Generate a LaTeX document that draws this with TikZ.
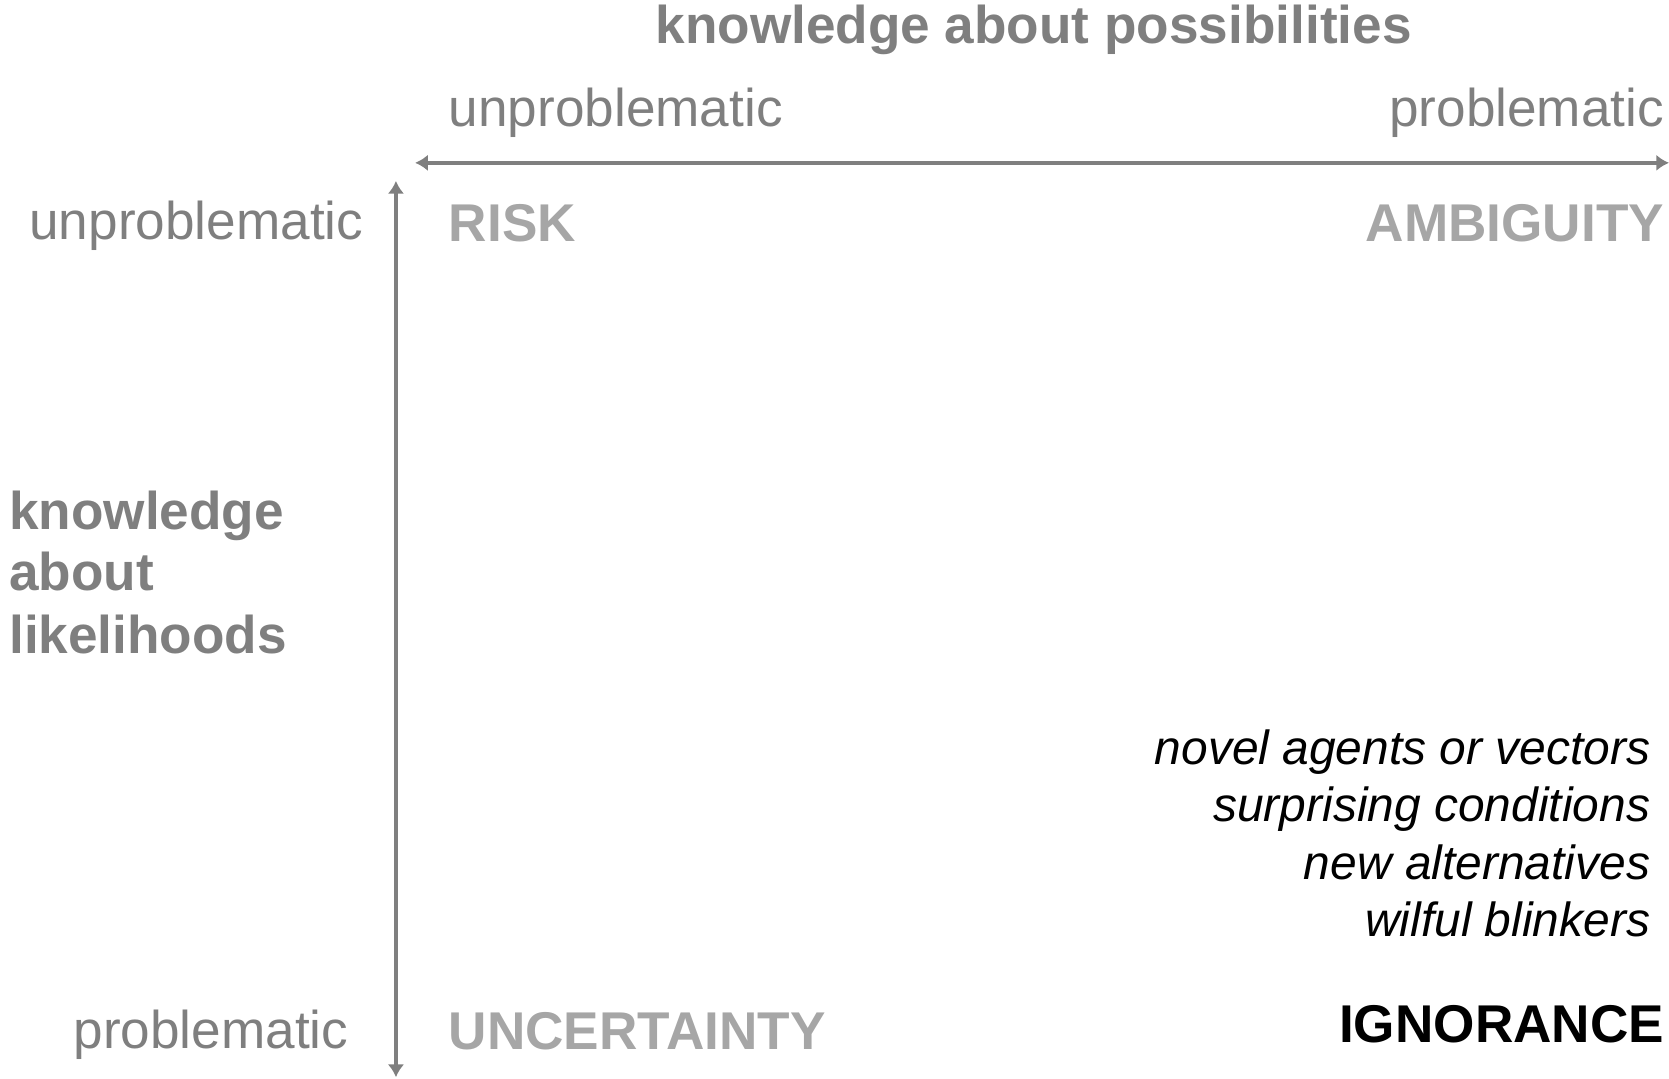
\documentclass[tikz,border=0pt]{standalone}
\usepackage{fontspec}
\setmainfont{Liberation Sans}
\usetikzlibrary{arrows.meta, positioning}
\definecolor{axgrey}{HTML}{7f7f7f}
\definecolor{qgrey}{HTML}{a6a6a6}

\begin{document}
\begin{tikzpicture}[x=0.01cm, y=-0.01cm,
            lbl/.style={inner sep=0pt, text=axgrey, font=\fontsize{14.2}{17}\selectfont},
            head/.style={inner sep=0pt, text=axgrey, font=\fontsize{14.2}{17}\selectfont\bfseries},
            quad/.style={head, text=qgrey},
            hint/.style={inner sep=0pt, text=black, font=\fontsize{12.8}{15}\selectfont\itshape},
            axis/.style={draw=axgrey, line width=1pt, {Latex[length=3.4pt,width=4.4pt]}-{Latex[length=3.4pt,width=4.4pt]}}]
        \useasboundingbox (0,0) rectangle (1568,1013);
        % axis end points
        \coordinate (hl) at (390,153);
        \coordinate (hr) at (1568,153);
        \coordinate (vt) at (372,170);
        \coordinate (vb) at (372,1012);
        \draw[axis] (hl) -- (hr);
        \draw[axis] (vt) -- (vb);
        % possibilities
        \node[head, anchor=base] (poss) at (971,41) {knowledge about possibilities};
        \node[lbl, anchor=base west] (pun) at (421,119) {unproblematic};
        \node[lbl, anchor=base east] (ppr) at (1564,119) {problematic};
        % likelihoods
        \node[lbl, anchor=base east] (lun) at (342,225) {unproblematic};
        \node[lbl, anchor=base east] (lpr) at (328,985) {problematic};
        \node[head, anchor=base west] (like1) at (8,497) {knowledge};
        \node[head, anchor=base west] (like2) at (8,555) {about};
        \node[head, anchor=base west] (like3) at (8,614) {likelihoods};
        % quadrants
        \node[quad, anchor=base west] (risk) at (421,227) {RISK};
        \node[quad, anchor=base east] (amb) at (1564,227) {AMBIGUITY};
        \node[quad, anchor=base west] (unc) at (421,986) {UNCERTAINTY};
        \node[head, text=black, anchor=base east] (ign) at (1564,979) {IGNORANCE};
        \node[hint, anchor=base east] (h1) at (1551,718) {novel agents or vectors};
        \node[hint, anchor=base east] (h2) at (1551,772) {surprising conditions};
        \node[hint, anchor=base east] (h3) at (1551,826) {new alternatives};
        \node[hint, anchor=base east] (h4) at (1551,880) {wilful blinkers};
    \end{tikzpicture}
\end{document}
